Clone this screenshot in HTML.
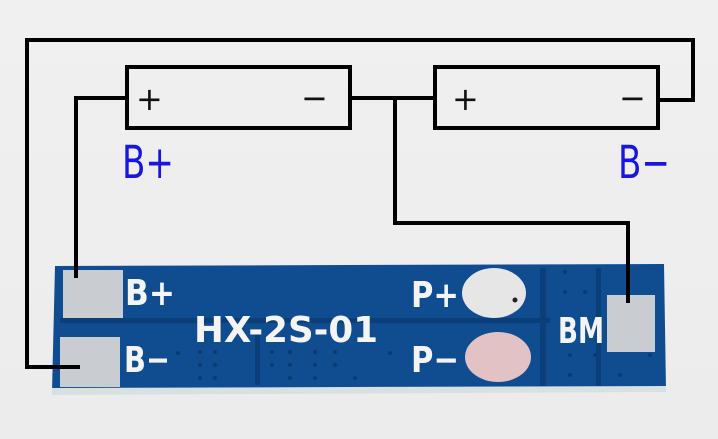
<!DOCTYPE html>
<html><head><meta charset="utf-8"><style>html,body{margin:0;padding:0;background:#efefef}svg{display:block}</style></head>
<body>
<svg width="718" height="439" viewBox="0 0 718 439" xmlns="http://www.w3.org/2000/svg">
<defs>
<linearGradient id="bg" x1="0" y1="0" x2="0" y2="1"><stop offset="0" stop-color="#f0f0f0"/><stop offset="1" stop-color="#ececec"/></linearGradient>
</defs>
<rect width="718" height="439" fill="url(#bg)"/>
<polygon points="55,266 664,264 666,390 52,392" fill="#0f4c90"/>
<polygon points="52,388 666,386 666,392 52,395" fill="#d8e0e0"/>
<rect x="60" y="318" width="490" height="5" fill="#0a3f7a"/>
<rect x="540" y="268" width="6" height="118" fill="#0a3f7a"/>
<rect x="596" y="268" width="5" height="118" fill="#0a3f7a"/>
<rect x="255" y="330" width="5" height="55" fill="#0a3f7a"/>
<rect x="63" y="270" width="60" height="48" fill="#c9cdd2"/>
<rect x="60" y="337" width="60" height="50" fill="#c9cdd2"/>
<rect x="607" y="295" width="48" height="57" fill="#c9cdd2"/>
<ellipse cx="494" cy="293" rx="32" ry="25" fill="#e6e6e6"/>
<ellipse cx="498" cy="357" rx="33" ry="25" fill="#e2c2c4"/>
<circle cx="515" cy="300" r="2.5" fill="#222"/>
<g fill="#0a3a70">
<circle cx="178" cy="353" r="2"/><circle cx="200" cy="352" r="2"/><circle cx="215" cy="352" r="2"/><circle cx="200" cy="365" r="2"/><circle cx="215" cy="365" r="2"/><circle cx="200" cy="378" r="2"/><circle cx="215" cy="378" r="2"/>
<circle cx="272" cy="352" r="2"/><circle cx="290" cy="352" r="2"/><circle cx="315" cy="352" r="2"/><circle cx="335" cy="352" r="2"/><circle cx="272" cy="365" r="2"/><circle cx="290" cy="365" r="2"/><circle cx="315" cy="365" r="2"/><circle cx="335" cy="365" r="2"/><circle cx="290" cy="378" r="2"/><circle cx="315" cy="378" r="2"/><circle cx="355" cy="378" r="2"/><circle cx="390" cy="353" r="2"/>
<circle cx="565" cy="272" r="2"/><circle cx="565" cy="292" r="2"/><circle cx="585" cy="292" r="2"/><circle cx="570" cy="355" r="2"/><circle cx="595" cy="355" r="2"/><circle cx="570" cy="375" r="2"/><circle cx="620" cy="375" r="2"/><circle cx="650" cy="355" r="2"/>
</g>
<g font-family="DejaVu Sans, sans-serif" font-weight="bold" fill="#f4f4f4" font-size="36">
<text x="125" y="305" textLength="50" lengthAdjust="spacingAndGlyphs">B+</text>
<text x="124" y="372" textLength="46" lengthAdjust="spacingAndGlyphs">B−</text>
<text x="194" y="342" textLength="184" lengthAdjust="spacingAndGlyphs">HX-2S-01</text>
<text x="411" y="307" textLength="48" lengthAdjust="spacingAndGlyphs">P+</text>
<text x="411" y="372" textLength="48" lengthAdjust="spacingAndGlyphs">P−</text>
<text x="558" y="343" textLength="46" lengthAdjust="spacingAndGlyphs">BM</text>
</g>
<g fill="none" stroke="#000" stroke-width="4">
<polyline points="80,367 27,367 27,40 693,40 693,100 658,100"/>
<polyline points="127,98 76,98 76,278"/>
<line x1="350" y1="98" x2="435" y2="98"/>
<polyline points="395,98 395,223 628,223 628,303"/>
<rect x="127" y="67" width="223" height="61"/>
<rect x="435" y="67" width="223" height="61"/>
</g>
<g font-family="DejaVu Sans, sans-serif" font-size="32" fill="#111">
<text x="136" y="110">+</text><text x="301" y="109">−</text>
<text x="452" y="110">+</text><text x="619" y="109">−</text>
</g>
<g font-family="DejaVu Sans, sans-serif" font-size="45" fill="#1a14e0">
<text x="122" y="178" textLength="52" lengthAdjust="spacingAndGlyphs">B+</text>
<text x="618" y="178" textLength="52" lengthAdjust="spacingAndGlyphs">B−</text>
</g>
</svg>
</body></html>
